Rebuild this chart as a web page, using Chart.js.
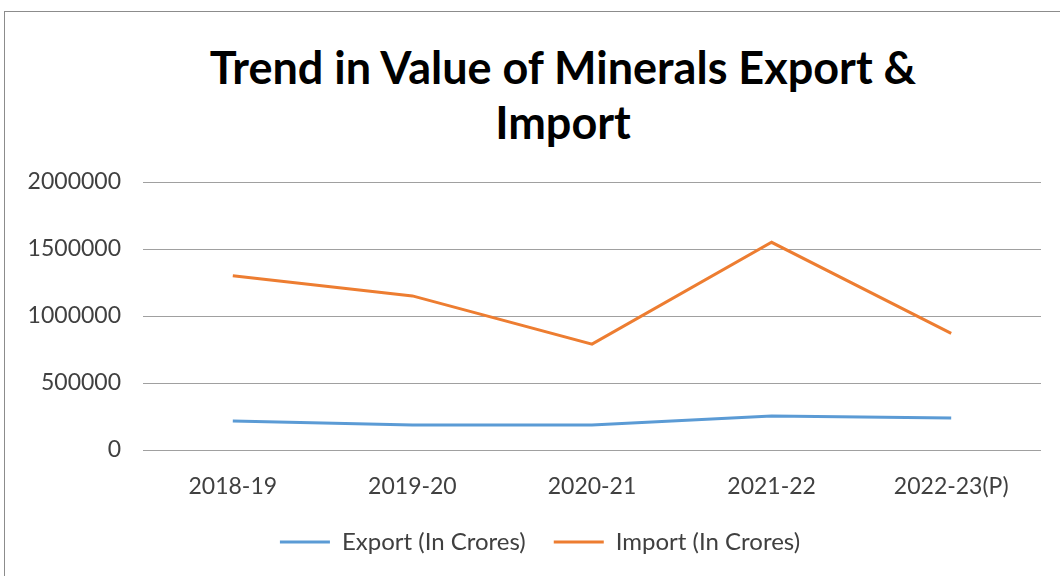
<!DOCTYPE html>
<html>
<head>
<meta charset="utf-8">
<script src="https://cdn.jsdelivr.net/npm/chart.js@4.4.0/dist/chart.umd.min.js"></script>
<style>
  html, body { margin: 0; padding: 0; background: #fff; overflow: hidden; }
  #frame {
    position: absolute; left: 4px; top: 11px; width: 1100px; height: 600px;
    border-top: 1px solid #8c8c8c; border-left: 1px solid #8c8c8c;
  }
  #title {
    position: absolute; left: 0; top: 40px; width: 1126px; text-align: center;
    font-family: Lato, "Open Sans", sans-serif; font-size: 45px; font-weight: bold;
    line-height: 55px; color: #000;
  }
  #wrap { position: absolute; left: 0; top: 0; width: 1060px; height: 576px; }
</style>
</head>
<body>
<div id="frame"></div>
<div id="title">Trend in Value of Minerals Export &amp;<br>Import</div>
<div id="wrap"><canvas id="chart-minerals"></canvas></div>
<script>
const years = ['2018-19', '2019-20', '2020-21', '2021-22', '2022-23(P)']
const export_values = [216000, 187000, 187000, 254000, 239000]
const import_values = [1300000, 1150000, 790000, 1550000, 870000]
const y_ticks = [0, 500000, 1000000, 1500000, 2000000]

const font_family = 'Lato, "Open Sans", sans-serif'
const canvas = document.getElementById('chart-minerals')

let chart = new Chart(canvas, {
  type: 'line',
  data: {
    labels: years,
    datasets: [
      {
        label: 'Export (In Crores)',
        data: export_values,
        borderColor: '#5b9bd5',
        backgroundColor: '#5b9bd5',
        borderWidth: 3,
        pointRadius: 0,
        tension: 0,
      },
      {
        label: 'Import (In Crores)',
        data: import_values,
        borderColor: '#ed7d31',
        backgroundColor: '#ed7d31',
        borderWidth: 3,
        pointRadius: 0,
        tension: 0,
      },
    ]
  },
  options: {
    responsive: true,
    maintainAspectRatio: false,
    animation: false,
    layout: {
      padding: { left: 20, right: 0, top: 182, bottom: 12 }
    },
    plugins: {
      legend: {
        position: 'bottom',
        labels: {
          usePointStyle: true,
          pointStyle: 'line',
          pointStyleWidth: 50,
          padding: 28,
          color: '#404040',
          font: { family: font_family, size: 24 },
        }
      },
      tooltip: { enabled: false },
    },
    scales: {
      x: {
        offset: true,
        afterFit: (scale) => { scale.height = 52 },
        grid: { display: false, drawTicks: false },
        border: { display: false },
        ticks: {
          color: '#404040',
          padding: 23,
          font: { family: font_family, size: 23 },
        },
      },
      y: {
        min: 0,
        max: 2000000,
        afterFit: (scale) => { scale.width = 123 },
        afterBuildTicks: (scale) => { scale.ticks = y_ticks.map(v => ({ value: v })) },
        grid: { color: '#a0a0a0', lineWidth: 1, drawTicks: false },
        border: { display: false },
        ticks: {
          color: '#404040',
          padding: 22,
          font: { family: font_family, size: 23 },
          callback: (value) => String(value),
        },
      },
      // empty right axis, only keeps the plot edge where the original has it
      yRight: {
        type: 'linear',
        position: 'right',
        afterFit: (scale) => { scale.width = 19 },
        grid: { display: false },
        border: { display: false },
        ticks: { display: false },
      },
    },
  }
})
</script>
</body>
</html>
